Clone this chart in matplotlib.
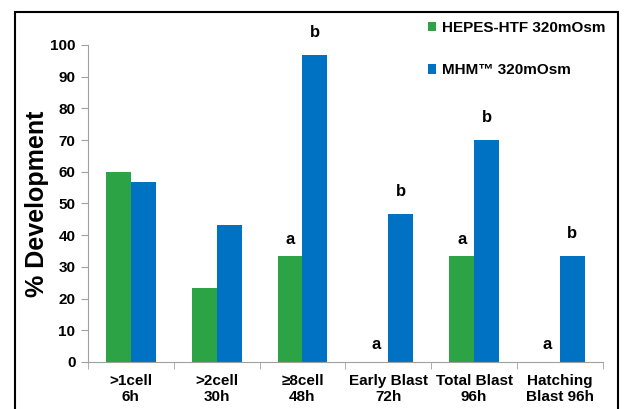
import matplotlib.pyplot as plt
import matplotlib.patches as mpatches
import numpy as np

plt.rcParams['font.family'] = ['Liberation Sans', 'DejaVu Sans']
plt.rcParams['font.weight'] = 'bold'

categories = ['>1cell\n6h', '>2cell\n30h', '\u22658cell\n48h', 'Early Blast\n72h',
              'Total Blast\n96h', 'Hatching\nBlast 96h']
hepes = [60.0, 23.3, 33.3, 0.0, 33.3, 0.0]
mhm = [56.7, 43.3, 96.7, 46.7, 70.0, 33.3]
hepes_letters = ['', '', 'a', 'a', 'a', 'a']
mhm_letters = ['', '', 'b', 'b', 'b', 'b']
series_names = ['HEPES-HTF 320mOsm', 'MHM\u2122 320mOsm']
yticks = list(range(0, 101, 10))

green = '#2ca344'
blue = '#0072c4'

fig = plt.figure(figsize=(6.24, 4.09), dpi=100)
ax = fig.add_axes([0.141, 0.115, 0.825, 0.775])

x = np.arange(len(categories))
w = 0.29
ax.bar(x - w / 2, hepes, w, color=green, label=series_names[0])
ax.bar(x + w / 2, mhm, w, color=blue, label=series_names[1])

# significance letters above bars
for xi, v, t in zip(x, hepes, hepes_letters):
    if t:
        ax.annotate(t, (xi - w / 2, v), xytext=(0, 7), textcoords='offset points',
                    ha='center', va='bottom', fontsize=12, fontweight='bold',
                    annotation_clip=False)
for xi, v, t in zip(x, mhm, mhm_letters):
    if t:
        ax.annotate(t, (xi + w / 2, v), xytext=(0, 11), textcoords='offset points',
                    ha='center', va='bottom', fontsize=12, fontweight='bold',
                    annotation_clip=False)

ax.set_xlim(-0.5, len(categories) - 0.5)
ax.set_ylim(0, 100)
ax.set_yticks(yticks)
ax.set_yticklabels([str(t) for t in yticks], fontsize=11, fontweight='bold')
ax.set_xticks(x)
ax.set_xticklabels(categories, fontsize=11, fontweight='bold', linespacing=1.15)
ax.tick_params(axis='x', length=0, pad=9)
ax.set_xticks(np.arange(-0.5, len(categories)), minor=True)
ax.tick_params(axis='x', which='minor', length=5, color='#a0a0a0', direction='out')
ax.tick_params(axis='y', length=5, color='#a0a0a0', pad=4)

for s in ['top', 'right']:
    ax.spines[s].set_visible(False)
for s in ['left', 'bottom']:
    ax.spines[s].set_color('#a0a0a0')

ax.set_ylabel('% Development', fontsize=18, fontweight='bold', labelpad=1)

ax.legend(loc='upper left', bbox_to_anchor=(0.66, 1.075), frameon=False,
          borderaxespad=0, borderpad=0,
          labelspacing=1.85, handlelength=0.55, handleheight=0.55,
          handletextpad=0.35, prop={'weight': 'bold', 'size': 11})

# outer frame
fig.patches.append(mpatches.Rectangle((15 / 624, -0.05), (618 - 15) / 624, 1.05 - 12 / 409,
                                      transform=fig.transFigure, fill=False,
                                      edgecolor='black', linewidth=1.5))

fig.savefig('out.png', dpi=100)
